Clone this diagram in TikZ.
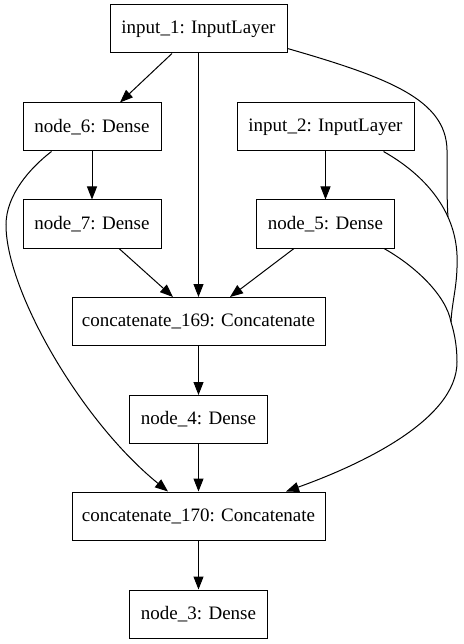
\documentclass[tikz,border=0pt]{standalone}
\usepackage{fontspec}
\setmainfont{Liberation Serif}
\usetikzlibrary{arrows.meta}

\begin{document}
\begin{tikzpicture}[x=1pt,y=-1pt,>={Triangle[length=13pt,width=10pt]},
                    line width=1pt,
                    every node/.style={font=\fontsize{19}{22}\selectfont},
                    layer/.style={draw,minimum height=48pt,inner sep=0pt,line width=1pt},
                    inlayer/.style={layer,minimum width=177pt},
                    dense/.style={layer,minimum width=138pt},
                    concat/.style={layer,minimum width=253pt}]
  \useasboundingbox[fill=white] (0,0) rectangle (463,644);
  \node[inlayer] (input1) at (198.5,29) {input\_1: InputLayer};
  \node[dense] (node6) at (92,127) {node\_6: Dense};
  \node[inlayer] (input2) at (325.5,127) {input\_2: InputLayer};
  \node[dense] (node7) at (92,224) {node\_7: Dense};
  \node[dense] (node5) at (325.5,224) {node\_5: Dense};
  \node[concat] (cat169) at (198.5,321.5) {concatenate\_169: Concatenate};
  \node[dense] (node4) at (198.5,419.5) {node\_4: Dense};
  \node[concat] (cat170) at (198.5,516) {concatenate\_170: Concatenate};
  \node[dense] (node3) at (198.5,614) {node\_3: Dense};
  \draw[->] ([xshift=-26.5pt]input1.south) -- ([xshift=28pt]node6.north);
  \draw[->] (input1) -- (cat169);
  \draw[->] (node6) -- (node7);
  \draw[->] (input2) -- (node5);
  \draw[->] ([xshift=27pt]node7.south) -- ([xshift=-25.5pt]cat169.north);
  \draw[->] ([xshift=-31.5pt]node5.south) -- ([xshift=31.5pt]cat169.north);
  \draw[->] (cat169) -- (node4);
  \draw[->] (node4) -- (cat170);
  \draw[->] (cat170) -- (node3);
  % long edges round the sides
  \coordinate (j1) at (448,217);
  \coordinate (j2) at (451,322);
  \draw[->] ([xshift=29pt]node6.south west) .. controls (30,168) and (6,195) .. (6,225)
      .. controls (6,290) and (80,420) .. ([xshift=-30.5pt]cat170.north);
  \draw ([yshift=5pt]input1.south east) .. controls (390,78) and (446,100) .. (447,150)
      .. controls (447,185) and (447,205) .. (j1);
  \draw ([xshift=-31pt]input2.south east) .. controls (425,175) and (455,210) .. (457,255)
      .. controls (458,285) and (452,300) .. (j2);
  \draw[->] ([xshift=-11pt]node5.south east) .. controls (415,266) and (446,295) .. (j2)
      .. controls (455,335) and (457,348) .. (457,362)
      .. controls (457,420) and (360,465) .. ([xshift=87.5pt]cat170.north);
\end{tikzpicture}
\end{document}
